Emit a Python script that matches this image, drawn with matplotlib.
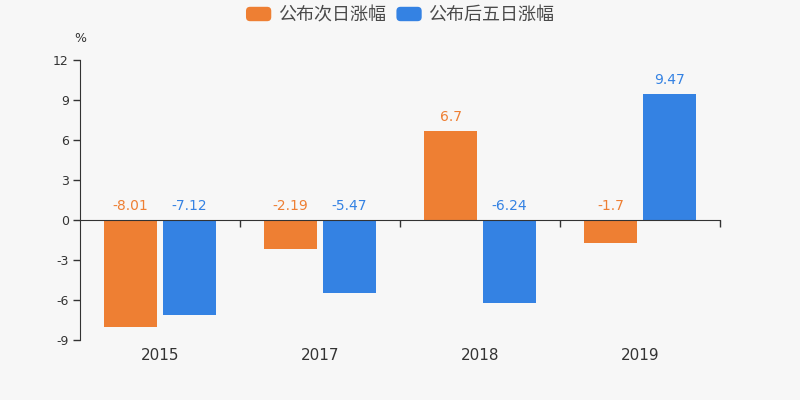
import numpy as np
import matplotlib
matplotlib.use('Agg')
import matplotlib.pyplot as plt
from matplotlib.patches import FancyBboxPatch, Patch
from matplotlib.legend_handler import HandlerPatch
import matplotlib.transforms as mtransforms

plt.rcParams['font.family'] = ['DejaVu Sans', 'Noto Sans CJK SC']
plt.rcParams['axes.unicode_minus'] = False

years = ['2015', '2017', '2018', '2019']
next_day = [-8.01, -2.19, 6.7, -1.7]
five_day = [-7.12, -5.47, -6.24, 9.47]
series_names = ['公布次日涨幅', '公布后五日涨幅']
yticks = [-9, -6, -3, 0, 3, 6, 9, 12]

c_orange = '#ee7f33'
c_blue = '#3482e3'
bg = '#f7f7f7'
txt = '#333333'

fig = plt.figure(figsize=(8, 4), dpi=100, facecolor=bg)
ax = fig.add_axes([0.1, 0.15, 0.8, 0.7], facecolor=bg)

x = np.arange(len(years))
w = 0.335
off = 0.184
ax.bar(x - off, next_day, w, color=c_orange, zorder=2)
ax.bar(x + off, five_day, w, color=c_blue, zorder=2)

# value labels sit above the zero line / bar top
for xs, vals, col in [(x - off, next_day, c_orange), (x + off, five_day, c_blue)]:
    for xi, v in zip(xs, vals):
        ax.annotate('%g' % v, (xi, max(v, 0)), xytext=(0, 5), textcoords='offset points',
                    ha='center', va='bottom', fontsize=10, color=col)

ax.set_xlim(-0.5, len(years) - 0.5)
ax.set_ylim(-9, 12)
ax.set_yticks(yticks)
ax.tick_params(axis='y', direction='out', length=5, width=1, colors=txt, labelsize=9, pad=3)

ax.spines['top'].set_visible(False)
ax.spines['right'].set_visible(False)
ax.spines['left'].set_color(txt)
ax.spines['bottom'].set_position(('data', 0))
ax.spines['bottom'].set_color(txt)
ax.set_xticks(x + 0.5)
ax.set_xticklabels([])
ax.tick_params(axis='x', direction='out', length=5, width=1, colors=txt)

trans = mtransforms.blended_transform_factory(ax.transData, ax.transAxes)
for xi, yr in zip(x, years):
    ax.text(xi, -0.055, yr, transform=trans, ha='center', va='center', fontsize=11, color=txt)

ax.text(0.0, 1.075, '%', transform=ax.transAxes, ha='center', va='center', fontsize=9, color=txt)


class RoundHandler(HandlerPatch):
    def create_artists(self, legend, orig_handle, xdescent, ydescent, width, height, fontsize, trans):
        p = FancyBboxPatch((-xdescent, -ydescent), width, height,
                           boxstyle='round,pad=0,rounding_size=3',
                           facecolor=orig_handle.get_facecolor(), edgecolor='none', transform=trans)
        return [p]


handles = [Patch(color=c_orange), Patch(color=c_blue)]
fig.legend(handles, series_names, loc='upper center', bbox_to_anchor=(0.5, 1.025), ncol=2,
           frameon=False, handlelength=1.4, handleheight=0.85, handletextpad=0.35, columnspacing=0.6,
           prop={'family': ['Noto Sans CJK SC'], 'size': 13}, labelcolor='#4a4a4a',
           handler_map={Patch: RoundHandler()})

fig.savefig('out.png', dpi=100, facecolor=bg)
